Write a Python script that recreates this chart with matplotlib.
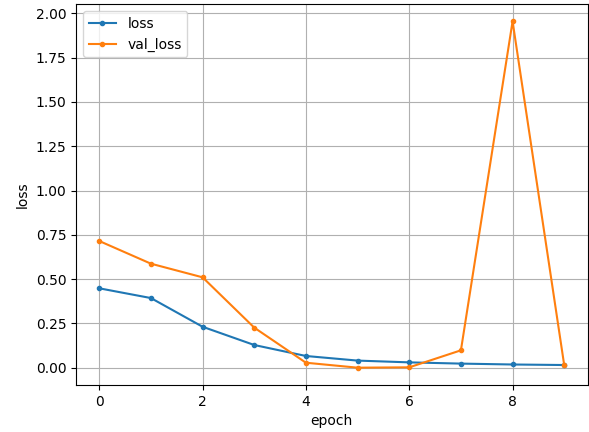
import matplotlib
matplotlib.use("Agg")
import matplotlib.pyplot as plt

epochs = list(range(10))
loss = [0.448, 0.393, 0.231, 0.128, 0.066, 0.040, 0.030, 0.023, 0.018, 0.015]
val_loss = [0.715, 0.587, 0.510, 0.226, 0.028, 0.000, 0.002, 0.098, 1.955, 0.013]

fig = plt.figure(figsize=(5.89, 4.32), dpi=100)
ax = fig.add_axes([76 / 589, 1 - 385 / 432, 511.5 / 589, 381 / 432])
ax.plot(epochs, loss, marker=".", label="loss")
ax.plot(epochs, val_loss, marker=".", label="val_loss")
ax.set_xlabel("epoch")
ax.set_ylabel("loss")
ax.grid(True)
ax.legend(loc="upper left")
fig.savefig("out.png", dpi=100)
